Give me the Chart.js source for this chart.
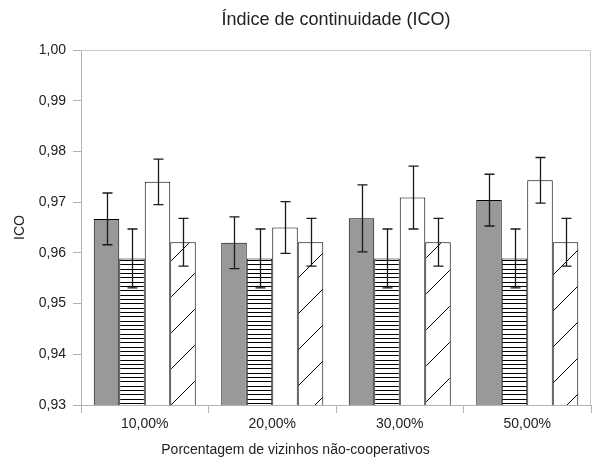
<!DOCTYPE html>
<html><head><meta charset="utf-8">
<script src="https://cdn.jsdelivr.net/npm/chart.js@4.4.1/dist/chart.umd.min.js"></script>
<style>html,body{margin:0;padding:0;background:#fff}</style>
</head><body>
<canvas id="c" width="594" height="463" style="display:block;width:594px;height:463px"></canvas>
<script>
const categories = ['10,00%', '20,00%', '30,00%', '50,00%'];
const seriesGray = [0.9667, 0.9620, 0.9668, 0.9704];
const errorsGray = [0.0051, 0.0051, 0.0066, 0.0051];
const seriesHoriz = [0.9589, 0.9589, 0.9589, 0.9589];
const errorsHoriz = [0.0058, 0.0058, 0.0058, 0.0058];
const seriesWhite = [0.9740, 0.9650, 0.9709, 0.9743];
const errorsWhite = [0.0045, 0.0051, 0.0062, 0.0045];
const seriesDiag = [0.9621, 0.9621, 0.9621, 0.9621];
const errorsDiag = [0.0047, 0.0047, 0.0047, 0.0047];
const yMin = 0.93, yMax = 1.00, yStep = 0.01;

function makeHorizPattern() {
  const cv = document.createElement('canvas');
  cv.width = 8; cv.height = 13;
  const g = cv.getContext('2d');
  g.fillStyle = '#fff'; g.fillRect(0, 0, 8, 13);
  g.fillStyle = '#000';
  [0, 4, 9].forEach(y => g.fillRect(0, y, 8, 1));
  return document.getElementById('c').getContext('2d').createPattern(cv, 'repeat');
}
function makeDiagPattern() {
  const s = 36;
  const cv = document.createElement('canvas');
  cv.width = s; cv.height = s;
  const g = cv.getContext('2d');
  g.fillStyle = '#fff'; g.fillRect(0, 0, s, s);
  g.strokeStyle = '#000'; g.lineWidth = 1;
  g.beginPath(); g.moveTo(-2, s + 2); g.lineTo(s + 2, -2); g.stroke();
  return document.getElementById('c').getContext('2d').createPattern(cv, 'repeat');
}

const errorArrays = [errorsGray, errorsHoriz, errorsWhite, errorsDiag];

const errorBarPlugin = {
  id: 'errorBars',
  afterDatasetsDraw(chart) {
    const ctx = chart.ctx;
    const ys = chart.scales.y;
    ctx.save();
    ctx.strokeStyle = '#1a1a1a';
    ctx.lineWidth = 1.3;
    chart.data.datasets.forEach((ds, i) => {
      const meta = chart.getDatasetMeta(i);
      meta.data.forEach((el, j) => {
        const v = ds.data[j], e = errorArrays[i][j];
        const x = Math.round(el.x) + 0.5;
        const yt = ys.getPixelForValue(v + e);
        const yb = ys.getPixelForValue(v - e);
        ctx.beginPath();
        ctx.moveTo(x, yt); ctx.lineTo(x, yb);
        ctx.moveTo(x - 5, yt); ctx.lineTo(x + 5, yt);
        ctx.moveTo(x - 5, yb); ctx.lineTo(x + 5, yb);
        ctx.stroke();
      });
    });
    ctx.restore();
  }
};

const framePlugin = {
  id: 'frame',
  afterDraw(chart) {
    const a = chart.chartArea, ctx = chart.ctx;
    ctx.save();
    ctx.strokeStyle = '#c8c8c8'; ctx.lineWidth = 1;
    ctx.beginPath();
    ctx.moveTo(a.left, a.top + 0.5); ctx.lineTo(a.right - 0.5, a.top + 0.5); ctx.lineTo(a.right - 0.5, a.bottom);
    ctx.stroke();
    ctx.restore();
  }
};

const font = 'Liberation Sans';
const common = { borderColor: '#000', borderWidth: 1, categoryPercentage: 0.8, barPercentage: 1.0 };

new Chart(document.getElementById('c'), {
  type: 'bar',
  data: {
    labels: categories,
    datasets: [
      Object.assign({ label: 'Série 1', data: seriesGray, backgroundColor: '#999999' }, common),
      Object.assign({ label: 'Série 2', data: seriesHoriz, backgroundColor: makeHorizPattern() }, common),
      Object.assign({ label: 'Série 3', data: seriesWhite, backgroundColor: '#ffffff' }, common),
      Object.assign({ label: 'Série 4', data: seriesDiag, backgroundColor: makeDiagPattern() }, common)
    ]
  },
  options: {
    responsive: false,
    devicePixelRatio: 1,
    animation: false,
    layout: { padding: { left: 0, right: 3, top: 0, bottom: 0 } },
    plugins: {
      legend: { display: false },
      tooltip: { enabled: false },
      title: {
        display: true, text: 'Índice de continuidade (ICO)', fullSize: false,
        color: '#222', font: { family: font, size: 18, weight: 'normal' },
        padding: { top: 9.2, bottom: 19.2 }
      },
      subtitle: {
        display: true, position: 'bottom', text: 'Porcentagem de vizinhos não-cooperativos',
        color: '#222', font: { family: font, size: 14, weight: 'normal' },
        padding: { top: 6, bottom: 4.8 }
      }
    },
    scales: {
      x: {
        grid: { offset: true, drawOnChartArea: false, drawTicks: true, tickLength: 8, color: '#b3b3b3' },
        border: { color: '#b3b3b3' },
        ticks: { color: '#222', font: { family: font, size: 14 }, padding: 3 },
        afterFit(s) { s.height = 30.4; }
      },
      y: {
        min: yMin, max: yMax,
        grid: { drawOnChartArea: false, tickLength: 8, color: '#b3b3b3' },
        border: { color: '#b3b3b3' },
        ticks: {
          stepSize: yStep, color: '#222', font: { family: font, size: 14 }, padding: 7,
          callback: v => v.toFixed(2).replace('.', ',')
        },
        title: { display: true, text: 'ICO', color: '#222', font: { family: font, size: 14 }, padding: { top: 11.6, bottom: 0 } },
        afterFit(s) { s.width = 81; }
      }
    }
  },
  plugins: [errorBarPlugin, framePlugin]
});
</script>
</body></html>
